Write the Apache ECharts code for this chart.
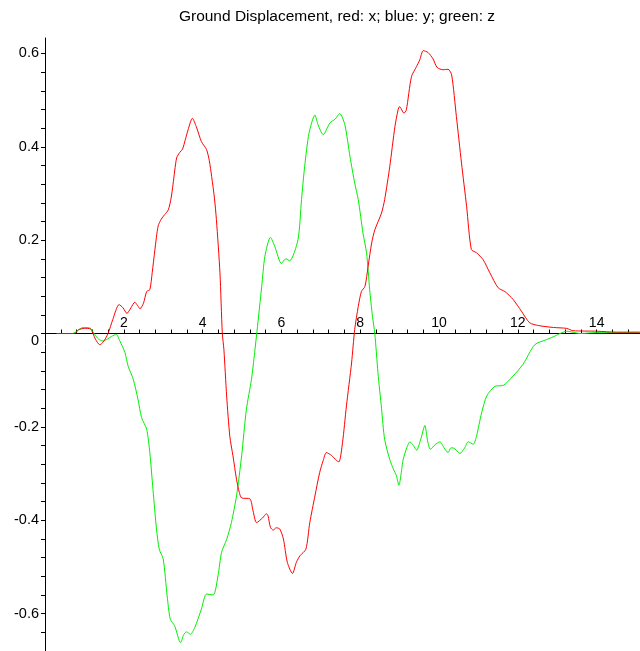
<!DOCTYPE html>
<html>
<head>
<meta charset="utf-8">
<script src="https://cdn.jsdelivr.net/npm/echarts@6/dist/echarts.min.js"></script>
<style>
  html, body { margin: 0; padding: 0; background: #fff; }
  #chart { width: 640px; height: 651px; }
</style>
</head>
<body>
<div id="chart"></div>
<script>
// Ground displacement traces (time in s, displacement)
const xTime = [0.29, 0.75, 0.85, 1.0, 1.15, 1.28, 1.39, 1.48, 1.6, 1.72, 1.88, 1.98, 2.08, 2.18, 2.28, 2.35, 2.41, 2.5, 2.58, 2.66, 2.72, 2.79, 2.87, 2.95, 3.04, 3.13, 3.2, 3.25, 3.34, 3.42, 3.49, 3.56, 3.63, 3.74, 3.84, 3.97, 4.1, 4.17, 4.23, 4.3, 4.35, 4.44, 4.5, 4.54, 4.61, 4.69, 4.77, 4.86, 4.93, 4.99, 5.2, 5.28, 5.37, 5.52, 5.62, 5.66, 5.72, 5.79, 5.87, 5.96, 6.05, 6.15, 6.28, 6.38, 6.47, 6.62, 6.72, 6.85, 6.97, 7.06, 7.14, 7.27, 7.4, 7.46, 7.55, 7.65, 7.78, 7.86, 7.95, 8.03, 8.12, 8.2, 8.29, 8.37, 8.54, 8.62, 8.75, 8.88, 8.96, 9.0, 9.11, 9.17, 9.3, 9.43, 9.51, 9.6, 9.72, 9.85, 9.95, 10.1, 10.23, 10.32, 10.44, 10.57, 10.7, 10.82, 10.95, 11.12, 11.29, 11.5, 11.67, 11.88, 12.09, 12.3, 12.53, 12.9, 13.24, 13.4, 14.0, 14.5, 15.1];
const xDisp = [0, 0, 0.008, 0.011, 0.01, -0.012, -0.024, -0.018, 0, 0.03, 0.062, 0.055, 0.043, 0.055, 0.067, 0.06, 0.053, 0.065, 0.09, 0.094, 0.13, 0.18, 0.23, 0.245, 0.255, 0.265, 0.29, 0.32, 0.376, 0.388, 0.395, 0.415, 0.436, 0.461, 0.443, 0.411, 0.394, 0.37, 0.336, 0.29, 0.244, 0.13, 0, -0.034, -0.134, -0.22, -0.262, -0.312, -0.34, -0.352, -0.354, -0.38, -0.405, -0.395, -0.386, -0.39, -0.415, -0.421, -0.416, -0.419, -0.44, -0.49, -0.514, -0.49, -0.476, -0.462, -0.405, -0.348, -0.298, -0.272, -0.255, -0.261, -0.272, -0.275, -0.234, -0.155, -0.063, 0.009, 0.058, 0.09, 0.101, 0.144, 0.194, 0.222, 0.258, 0.287, 0.358, 0.443, 0.479, 0.486, 0.472, 0.479, 0.55, 0.572, 0.586, 0.606, 0.602, 0.588, 0.57, 0.565, 0.566, 0.554, 0.465, 0.365, 0.272, 0.18, 0.173, 0.158, 0.13, 0.098, 0.09, 0.073, 0.048, 0.023, 0.017, 0.013, 0.011, 0.006, 0.005, 0.003, 0.003];

const zTime = [0.3, 0.7, 0.85, 0.97, 1.14, 1.26, 1.36, 1.47, 1.58, 1.69, 1.81, 1.9, 2.03, 2.11, 2.24, 2.36, 2.45, 2.58, 2.66, 2.74, 2.83, 2.9, 3.0, 3.1, 3.18, 3.29, 3.44, 3.52, 3.59, 3.69, 3.8, 3.97, 4.1, 4.27, 4.39, 4.48, 4.61, 4.73, 4.86, 4.99, 5.11, 5.24, 5.32, 5.38, 5.5, 5.58, 5.72, 5.83, 6.0, 6.11, 6.21, 6.42, 6.51, 6.59, 6.7, 6.85, 6.93, 7.06, 7.23, 7.36, 7.48, 7.61, 7.74, 7.86, 7.95, 8.07, 8.16, 8.24, 8.31, 8.37, 8.45, 8.54, 8.62, 8.75, 8.84, 8.92, 8.98, 9.09, 9.18, 9.26, 9.35, 9.43, 9.54, 9.64, 9.71, 9.78, 9.9, 10.02, 10.13, 10.23, 10.3, 10.36, 10.53, 10.65, 10.74, 10.87, 10.95, 11.08, 11.21, 11.42, 11.63, 11.88, 12.13, 12.43, 12.73, 12.98, 13.07, 13.24, 13.58, 14.0, 15.1];
const zDisp = [0, 0, 0.008, 0.013, 0.012, -0.002, -0.012, -0.016, -0.012, -0.006, -0.002, -0.016, -0.041, -0.07, -0.098, -0.141, -0.18, -0.205, -0.255, -0.334, -0.419, -0.462, -0.483, -0.562, -0.612, -0.626, -0.662, -0.645, -0.639, -0.644, -0.63, -0.59, -0.558, -0.56, -0.519, -0.469, -0.441, -0.405, -0.348, -0.262, -0.163, -0.098, -0.041, 0.005, 0.101, 0.165, 0.206, 0.187, 0.15, 0.16, 0.156, 0.201, 0.287, 0.358, 0.429, 0.468, 0.447, 0.426, 0.451, 0.459, 0.471, 0.447, 0.379, 0.322, 0.287, 0.215, 0.173, 0.094, 0.037, 0, -0.084, -0.16, -0.227, -0.27, -0.29, -0.305, -0.325, -0.27, -0.245, -0.232, -0.24, -0.25, -0.225, -0.197, -0.23, -0.248, -0.238, -0.232, -0.245, -0.255, -0.245, -0.245, -0.257, -0.245, -0.232, -0.237, -0.22, -0.17, -0.134, -0.113, -0.111, -0.091, -0.066, -0.024, -0.013, -0.004, 0, 0.005, 0, 0.002, 0.002];

// Axis tick labels
const xTickLabels = [2, 4, 6, 8, 10, 12, 14];
const yTickLabels = [-0.6, -0.4, -0.2, 0, 0.2, 0.4, 0.6];
const xMinorTicks = [];
for (let i = 1; i <= 37; i++) xMinorTicks.push(+(i * 0.4).toFixed(2));
const yMinorTicks = [];
for (let i = -16; i <= 15; i++) yMinorTicks.push(+(i * 0.04).toFixed(2));

const pairs = (t, v) => t.map((tt, i) => [tt, v[i]]);

const W = 640, H = 651;
const GRID = { left: 45, right: 0, top: 38, bottom: 0 };
const Y_MIN = -0.68, Y_MAX = 0.633;
// lift the time axis (line, ticks and labels) up to the zero level
const gridH = H - GRID.top - GRID.bottom;
const zeroLift = -gridH * (0 - Y_MIN) / (Y_MAX - Y_MIN);

const chart = echarts.init(document.getElementById('chart'), null, { renderer: 'canvas' });
const FONT = 'Liberation Sans, Arial, sans-serif';

chart.setOption({
  animation: false,
  backgroundColor: '#ffffff',
  title: {
    text: 'Ground Displacement, red: x; blue: y; green: z',
    left: 332,
    textAlign: 'center',
    top: 4,
    textStyle: { fontFamily: FONT, fontSize: 15.5, fontWeight: 'normal', color: '#000' }
  },
  grid: Object.assign({ containLabel: false }, GRID),
  xAxis: {
    type: 'value',
    min: 0,
    max: 15.1,
    offset: zeroLift,
    axisLine: { onZero: false, lineStyle: { color: '#000', width: 1 } },
    axisTick: { show: true, inside: true, length: 4, customValues: xMinorTicks, lineStyle: { color: '#000' } },
    axisLabel: {
      inside: true,
      margin: 3,
      customValues: xTickLabels,
      color: '#000',
      fontFamily: FONT,
      fontSize: 14
    },
    splitLine: { show: false }
  },
  yAxis: {
    type: 'value',
    min: Y_MIN,
    max: Y_MAX,
    axisLine: { show: true, onZero: false, lineStyle: { color: '#000', width: 1 } },
    axisTick: { show: true, inside: false, length: 4, customValues: yMinorTicks, lineStyle: { color: '#000' } },
    axisLabel: {
      margin: 6,
      customValues: yTickLabels,
      color: '#000',
      fontFamily: FONT,
      fontSize: 14.5,
      formatter: v => (v === 0 ? '{z|0}' : String(v)),
      rich: { z: { fontFamily: FONT, fontSize: 14.5, color: '#000', padding: [14, 0, 0, 0] } }
    },
    splitLine: { show: false }
  },
  series: [
    {
      name: 'x',
      type: 'line',
      data: pairs(xTime, xDisp),
      showSymbol: false,
      smooth: 0.25,
      lineStyle: { color: '#ff0000', width: 1 },
      z: 3
    },
    {
      name: 'z',
      type: 'line',
      data: pairs(zTime, zDisp),
      showSymbol: false,
      smooth: 0.25,
      lineStyle: { color: '#00ee00', width: 1 },
      z: 2
    }
  ]
});
</script>
</body>
</html>
